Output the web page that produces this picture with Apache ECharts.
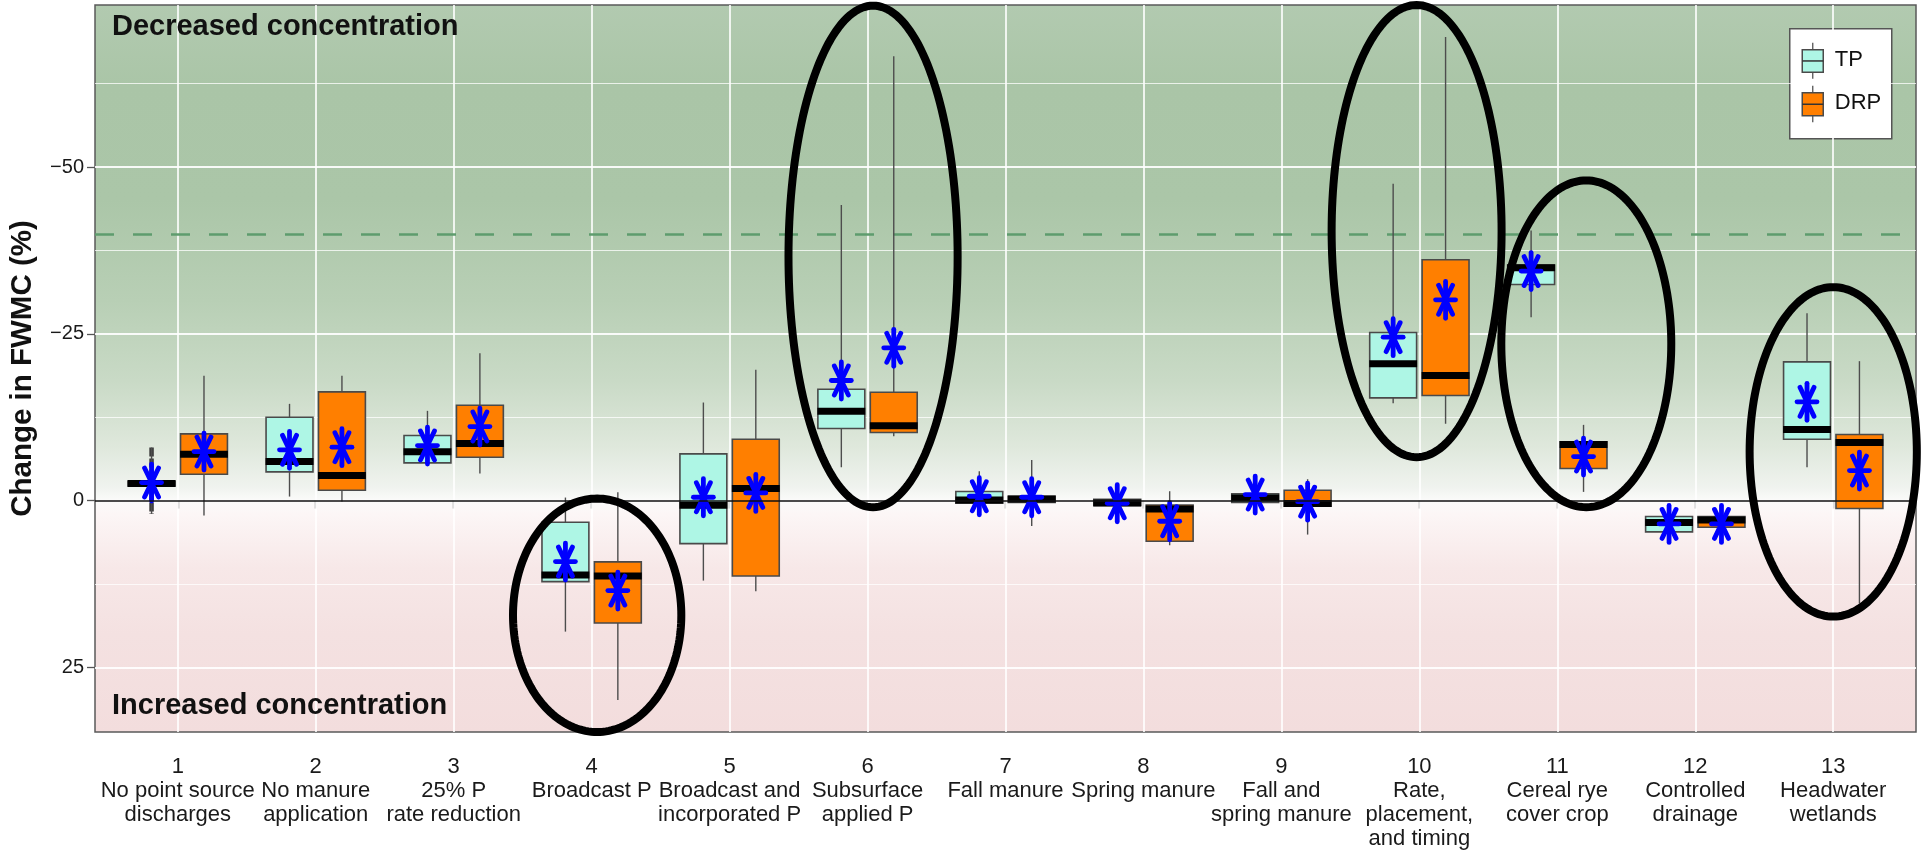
<!DOCTYPE html>
<html>
<head>
<meta charset="utf-8">
<title>Change in FWMC by practice</title>
<script src="https://cdn.jsdelivr.net/npm/echarts@6/dist/echarts.min.js"></script>
<style>
  html, body { margin: 0; padding: 0; background: #ffffff; }
  #chart { width: 1921px; height: 851px; }
</style>
</head>
<body>
<div id="chart"></div>
<script>
// ---- data -------------------------------------------------------------
const categories = [1, 2, 3, 4, 5, 6, 7, 8, 9, 10, 11, 12, 13];
const categoryNames = [
  'No point source\ndischarges',
  'No manure\napplication',
  '25% P\nrate reduction',
  'Broadcast P',
  'Broadcast and\nincorporated P',
  'Subsurface\napplied P',
  'Fall manure',
  'Spring manure',
  'Fall and\nspring manure',
  'Rate,\nplacement,\nand timing',
  'Cereal rye\ncover crop',
  'Controlled\ndrainage',
  'Headwater\nwetlands'
];

// [lower whisker, lower hinge, median, upper hinge, upper whisker] in % change
const tpBoxes = [
  [-7.95, -2.9, -2.55, -2.2, 2.0],
  [-14.5, -12.5, -5.85, -4.3, -0.6],
  [-13.45, -9.75, -7.3, -5.65, -5.45],
  [-0.45, 3.25, 11.15, 12.15, 19.65],
  [-14.7, -7.0, 0.7, 6.45, 12.0],
  [-44.3, -16.7, -13.4, -10.8, -5.0],
  [-4.4, -1.35, -0.1, 0.4, 1.0],
  [-0.3, -0.2, 0.35, 0.75, 1.0],
  [-4.0, -1.0, -0.4, 0.3, 0.5],
  [-47.5, -25.2, -20.5, -15.4, -14.6],
  [-40.5, -35.3, -34.9, -32.4, -27.5],
  [2.1, 2.4, 3.3, 4.7, 5.0],
  [-28.1, -20.8, -10.65, -9.2, -5.0]
];
const tpMeans = [-2.7, -7.6, -8.25, 9.15, -0.5, -18.0, -0.65, 0.4, -0.9, -24.5, -34.4, 3.5, -14.8];

const drpBoxes = [
  [-18.7, -10.0, -6.95, -3.95, 2.25],
  [-18.7, -16.3, -3.75, -1.55, 0.15],
  [-22.1, -14.3, -8.55, -6.5, -4.05],
  [-1.25, 9.2, 11.3, 18.35, 29.9],
  [-19.6, -9.2, -1.8, 11.3, 13.6],
  [-66.6, -16.25, -11.2, -10.2, -9.65],
  [-6.1, -0.65, -0.25, 0.27, 3.8],
  [-1.4, 0.67, 1.25, 6.1, 6.7],
  [-3.2, -1.55, 0.43, 0.86, 5.1],
  [-69.5, -36.1, -18.75, -15.75, -11.5],
  [-11.35, -8.8, -8.4, -4.8, -1.3],
  [2.2, 2.4, 2.9, 4.0, 4.3],
  [-20.9, -9.9, -8.7, 1.2, 15.4]
];
const drpMeans = [-7.35, -8.0, -11.1, 13.5, -1.15, -22.9, -0.5, 3.1, 0.16, -30.1, -6.6, 3.5, -4.5];

// stacked outlying TP values for practice 1: [practice, from, to]
const tpOutlierRuns = [[1, -7.95, 2.0]];

const targetLine = -40;
const yTicks = [-50, -25, 0, 25];
const yMajorGrid = [-50, -25, 25];
const yMinorGrid = [-62.5, -37.5, -12.5, 12.5];

// highlighted practices: [x centre, y centre, x radius, y radius] in axis units
const highlightEllipses = [
  [4.04, 17.2, 0.61, 17.5],
  [6.04, -36.6, 0.613, 37.6],
  [9.98, -40.4, 0.616, 33.9],
  [11.21, -23.5, 0.616, 24.5],
  [13.0, -7.3, 0.606, 24.7]
];

// ---- layout / style constants ---------------------------------------
const Y_MIN = -74.3, Y_MAX = 34.7;
const X_MIN = 0.4, X_MAX = 13.6;
const DODGE = 0.19;
const BOX_WIDTH = 0.34;
const TP_FILL = '#aef6e5';
const DRP_FILL = '#ff7f00';
const FONT = '"Liberation Sans", Arial, Helvetica, sans-serif';

const toItems = (boxes, means) => boxes.map((b, i) => [categories[i], ...b, means[i]]);

function asterisk(cx, cy) {
  const s = { stroke: '#0000ff', lineWidth: 4.8, lineCap: 'round' };
  const seg = (x1, y1, x2, y2) => ({ type: 'line', shape: { x1: cx + x1, y1: cy + y1, x2: cx + x2, y2: cy + y2 }, style: s });
  return [seg(0, -18.5, 0, 18.5), seg(-10, 0, 10, 0), seg(-7, -14.5, 7, 14.5), seg(7, -14.5, -7, 14.5)];
}

function boxRenderer(offset, fill) {
  return function (params, api) {
    const x = api.value(0) + offset;
    const pt = (v) => api.coord([x, v]);
    const px = pt(api.value(1))[0];
    const yLo = pt(api.value(1))[1];
    const yQ1 = pt(api.value(2))[1];
    const yMed = pt(api.value(3))[1];
    const yQ3 = pt(api.value(4))[1];
    const yHi = pt(api.value(5))[1];
    const yMean = pt(api.value(6))[1];
    const w = api.size([BOX_WIDTH, 0])[0];
    const top = Math.min(yQ1, yQ3);
    const h = Math.abs(yQ3 - yQ1);
    return {
      type: 'group',
      children: [
        { type: 'line', shape: { x1: px, y1: yLo, x2: px, y2: yHi }, style: { stroke: '#4d4d4d', lineWidth: 1.4 } },
        { type: 'rect', shape: { x: px - w / 2, y: top, width: w, height: h }, style: { fill: fill, stroke: '#4a4a4a', lineWidth: 1.6 } },
        { type: 'rect', shape: { x: px - w / 2 - 0.5, y: yMed - 3.5, width: w + 1, height: 7 }, style: { fill: '#000000' } },
        ...asterisk(px, yMean)
      ]
    };
  };
}

const chart = echarts.init(document.getElementById('chart'), null, { renderer: 'canvas' });

const bgStops = [
  [Y_MIN, '#b2cab0'],
  [-62, '#aac5a7'],
  [-45, '#abc6a8'],
  [-30, '#b8cfb5'],
  [-18, '#c9dac6'],
  [-8, '#dfe8dc'],
  [-2, '#f0f3ef'],
  [0, '#fbfbfa'],
  [2, '#fcf6f6'],
  [10, '#f7e8e8'],
  [20, '#f4e1e1'],
  [Y_MAX, '#f3dddd']
].map(([v, c]) => ({ offset: (v - Y_MIN) / (Y_MAX - Y_MIN), color: c }));

const option = {
  animation: false,
  backgroundColor: '#ffffff',
  grid: {
    left: 95, right: 5, top: 5, bottom: 119,
    show: true,
    backgroundColor: new echarts.graphic.LinearGradient(0, 0, 0, 1, bgStops),
    borderColor: '#5a5a5a',
    borderWidth: 1.5
  },
  xAxis: {
    type: 'value', min: X_MIN, max: X_MAX, offset: 4,
    axisLine: { show: false },
    splitLine: { show: false },
    axisTick: { show: true, customValues: categories, length: 8, lineStyle: { color: '#555', width: 1.3 } },
    axisLabel: {
      customValues: categories,
      formatter: (v) => v + '\n' + categoryNames[categories.indexOf(v)],
      fontFamily: FONT, fontSize: 22, lineHeight: 24, color: '#1a1a1a', margin: 19, align: 'center'
    }
  },
  yAxis: {
    type: 'value', inverse: true, min: Y_MIN, max: Y_MAX,
    axisLine: { show: false },
    splitLine: { show: false },
    axisTick: { show: true, customValues: yTicks, length: 8, lineStyle: { color: '#555', width: 1.3 } },
    axisLabel: {
      customValues: yTicks,
      formatter: (v) => (v < 0 ? '\u2212' + Math.abs(v) : String(v)),
      fontFamily: FONT, fontSize: 20, color: '#1a1a1a', margin: 11
    },
    name: 'Change in FWMC (%)',
    nameLocation: 'middle',
    nameRotate: 90,
    nameGap: 57,
    nameTextStyle: { fontFamily: FONT, fontSize: 29.5, fontWeight: 'bold', color: '#111' }
  },
  series: [
    {
      // panel grid lines and the target line, beneath the boxes
      type: 'custom', name: 'grid', z: 1, data: [],
      renderItem: () => null,
      markLine: {
        silent: true, symbol: 'none', z: 1, animation: false,
        label: { show: false },
        data: [
          ...categories.map(c => ({ xAxis: c, lineStyle: { color: '#ffffff', width: 1.8, type: 'solid', opacity: 0.9 } })),
          ...yMajorGrid.map(v => ({ yAxis: v, lineStyle: { color: '#ffffff', width: 2, type: 'solid', opacity: 0.9 } })),
          ...yMinorGrid.map(v => ({ yAxis: v, lineStyle: { color: '#ffffff', width: 1.1, type: 'solid', opacity: 0.75 } })),
          { yAxis: targetLine, lineStyle: { color: '#5e9c6d', width: 2.5, type: [19, 19] } }
        ]
      }
    },
    {
      type: 'custom', name: 'TP outliers', z: 2,
      data: tpOutlierRuns,
      renderItem: (params, api) => {
        const a = api.coord([api.value(0) - DODGE, api.value(1)]);
        const b = api.coord([api.value(0) - DODGE, api.value(2)]);
        return { type: 'line', shape: { x1: a[0], y1: a[1], x2: b[0], y2: b[1] }, style: { stroke: '#3d3d3d', lineWidth: 4.5, lineDash: [9, 2] } };
      }
    },
    { type: 'custom', name: 'TP', z: 3, data: toItems(tpBoxes, tpMeans), renderItem: boxRenderer(-DODGE, TP_FILL) },
    { type: 'custom', name: 'DRP', z: 3, data: toItems(drpBoxes, drpMeans), renderItem: boxRenderer(DODGE, DRP_FILL) },
    {
      // zero line drawn over the boxes
      type: 'custom', name: 'zero', z: 4, data: [],
      renderItem: () => null,
      markLine: {
        silent: true, symbol: 'none', z: 4, animation: false,
        label: { show: false },
        data: [{ yAxis: 0, lineStyle: { color: '#111111', width: 1.6, type: 'solid' } }]
      }
    },
    {
      type: 'custom', name: 'highlight', z: 6,
      data: highlightEllipses,
      renderItem: (params, api) => {
        const c = api.coord([api.value(0), api.value(1)]);
        const s = api.size([api.value(2), api.value(3)]);
        const pts = [];
        for (let i = 0; i < 180; i++) {
          const t = (i / 180) * Math.PI * 2;
          pts.push([c[0] + s[0] * Math.cos(t), c[1] + s[1] * Math.sin(t)]);
        }
        return { type: 'polygon', shape: { points: pts }, style: { fill: 'none', stroke: '#000000', lineWidth: 8 } };
      }
    }
  ],
  graphic: [
    { type: 'text', left: 112, top: 12, style: { text: 'Decreased concentration', font: 'bold 29px ' + FONT, fill: '#111' }, z: 10 },
    { type: 'text', left: 112, top: 691, style: { text: 'Increased concentration', font: 'bold 29px ' + FONT, fill: '#111' }, z: 10 },
    {
      type: 'group', left: 1789, top: 28, z: 10,
      children: [
        { type: 'rect', shape: { x: 0, y: 0, width: 102, height: 110 }, style: { fill: '#ffffff', stroke: '#555', lineWidth: 1.5 } },
        { type: 'line', shape: { x1: 23, y1: 14, x2: 23, y2: 50 }, style: { stroke: '#555', lineWidth: 1.3 } },
        { type: 'rect', shape: { x: 12.5, y: 21, width: 21, height: 22.5 }, style: { fill: TP_FILL, stroke: '#4a4a4a', lineWidth: 1.5 } },
        { type: 'line', shape: { x1: 12.5, y1: 32.2, x2: 33.5, y2: 32.2 }, style: { stroke: '#333', lineWidth: 1.5 } },
        { type: 'text', x: 45, y: 31, style: { text: 'TP', font: '22px ' + FONT, fill: '#111', verticalAlign: 'middle' } },
        { type: 'line', shape: { x1: 23, y1: 57, x2: 23, y2: 93.5 }, style: { stroke: '#555', lineWidth: 1.3 } },
        { type: 'rect', shape: { x: 12.5, y: 64, width: 21, height: 23 }, style: { fill: DRP_FILL, stroke: '#4a4a4a', lineWidth: 1.5 } },
        { type: 'line', shape: { x1: 12.5, y1: 75.5, x2: 33.5, y2: 75.5 }, style: { stroke: '#333', lineWidth: 1.5 } },
        { type: 'text', x: 45, y: 74.5, style: { text: 'DRP', font: '22px ' + FONT, fill: '#111', verticalAlign: 'middle' } }
      ]
    }
  ]
};

chart.setOption(option);
</script>
</body>
</html>
